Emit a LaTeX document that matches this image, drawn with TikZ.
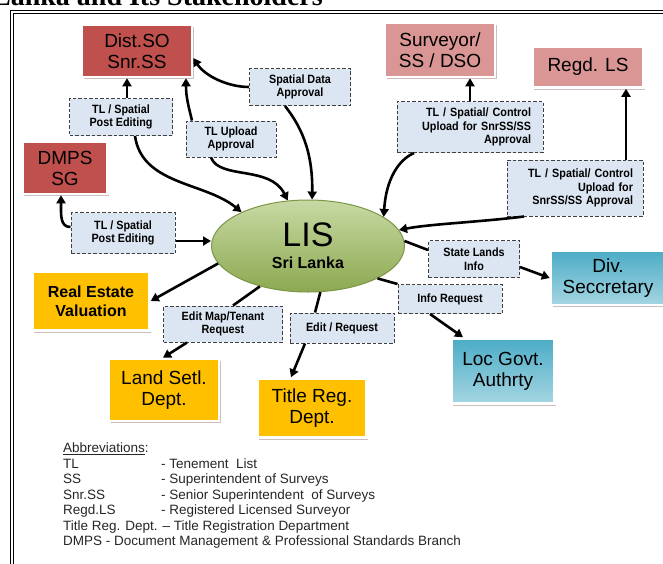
\documentclass[tikz,border=0pt]{standalone}
\usepackage{fontspec}
\setmainfont{Liberation Sans}
\newfontfamily\headfont{Liberation Serif}
\newfontfamily\flowfont[FakeStretch=0.9]{Liberation Sans}
\usetikzlibrary{arrows.meta,shadows,shapes.geometric}

\definecolor{sored}{HTML}{C0504D}
\definecolor{lsred}{HTML}{D99694}
\definecolor{deptorange}{HTML}{FFC000}
\definecolor{govteal}{HTML}{4BACC6}
\definecolor{flowblue}{HTML}{DCE6F2}
\definecolor{lisgreen}{HTML}{9BBB59}
\definecolor{shade}{HTML}{B9A3A3}

\tikzset{
  stake/.style={draw=white, line width=2.5pt, align=center,
    font=\fontsize{19}{21}\selectfont,
    drop shadow={shadow xshift=1.5pt, shadow yshift=-2pt, fill=shade, opacity=.7}},
  survey/.style={stake, fill=sored},
  licensed/.style={stake, fill=lsred},
  dept/.style={stake, fill=deptorange},
  govt/.style={stake, top color=govteal, bottom color=govteal!50},
  flow/.style={draw=black!75, line width=1pt, dash pattern=on 3.5pt off 2pt,
    fill=flowblue, align=center, inner sep=2pt,
    font=\flowfont\bfseries\fontsize{12}{13.5}\selectfont},
  arr/.style={line width=2.6pt, -{Triangle[length=8pt,width=9pt]}},
  link/.style={line width=2.6pt},
}

\begin{document}
\begin{tikzpicture}[x=1pt,y=-1pt]
  \useasboundingbox (0,0) rectangle (663,563);
  \fill[white] (0,0) rectangle (663,563);

  % page frame and cut title
  \draw[line width=1.4pt] (10.5,10.5) rectangle (700,600);
  \draw[line width=0.7pt] (13.5,13.5) rectangle (700,600);
  \node[anchor=base east, inner sep=0, font=\headfont\bfseries\fontsize{28}{28}\selectfont] (title) at (323,5) {Sri Lanka and Its Stakeholders};

  % stakeholders
  \node[survey, minimum width=110pt, minimum height=52pt] (distso) at (137,51) {Dist.SO\\Snr.SS};
  \node[licensed, minimum width=110pt, minimum height=54pt] (surveyor) at (440,50) {Surveyor/\\SS / DSO};
  \node[licensed, minimum width=111pt, minimum height=41pt] (regdls) at (588,67) {Regd. LS};
  \node[survey, minimum width=85pt, minimum height=52pt] (dmps) at (65,168) {DMPS\\SG};
  \node[dept, minimum width=117pt, minimum height=59pt, font=\bfseries\fontsize{16}{19}\selectfont] (realestate) at (91,301) {Real Estate\\Valuation};
  \node[dept, minimum width=110pt, minimum height=62pt] (landsetl) at (164,390) {Land Setl.\\Dept.};
  \node[dept, minimum width=109pt, minimum height=59pt] (titlereg) at (312,408) {Title Reg.\\Dept.};
  \node[govt, minimum width=114pt, minimum height=54pt] (divsec) at (608,278) {Div.\\Seccretary};
  \node[govt, minimum width=103pt, minimum height=65pt] (locgovt) at (503,371) {Loc Govt.\\Authrty};

  \node[ellipse, draw=lisgreen!80!black, line width=1pt, top color=lisgreen!55, bottom color=lisgreen!90!black,
    minimum width=193pt, minimum height=92pt, inner sep=0, align=center,
    font=\fontsize{16}{22}\selectfont] (lis) at (308,246) {{\fontsize{34}{34}\selectfont LIS}\\\textbf{Sri Lanka}};

  % flows
  \node[flow, minimum width=101pt, minimum height=37pt] (spatialdata) at (300,87) {Spatial Data\\Approval};
  \node[flow, minimum width=103pt, minimum height=37pt] (postedit1) at (121,117) {TL / Spatial\\Post Editing};
  \node[flow, minimum width=90pt, minimum height=36pt] (tlupload) at (231,139) {TL Upload\\Approval};
  \node[flow, minimum width=146pt, minimum height=51pt, text width=122pt, align=right] (control1) at (470,127) {TL / Spatial/ Control\\Upload for SnrSS/SS\\Approval};
  \node[flow, minimum width=136pt, minimum height=56pt, text width=116pt, align=right] (control2) at (575,188) {TL / Spatial/ Control\\Upload for\\SnrSS/SS Approval};
  \node[flow, minimum width=104pt, minimum height=41pt] (postedit2) at (123,233) {TL / Spatial\\Post Editing};
  \node[flow, minimum width=91pt, minimum height=37pt] (statelands) at (474,259) {State Lands\\Info};
  \node[flow, minimum width=104pt, minimum height=29pt] (inforeq) at (450,299) {Info Request};
  \node[flow, minimum width=119pt, minimum height=36pt] (editmap) at (223,324) {Edit Map/Tenant\\Request};
  \node[flow, minimum width=104pt, minimum height=30pt] (editreq) at (342,328) {Edit / Request};

  % connectors
  \draw[arr] ([xshift=6pt]postedit1.north) -- ([xshift=6pt]postedit1.north |- distso.south);
  \draw[arr] ([xshift=-39pt]tlupload.north) .. controls (189,108) and (186,98) .. ([xshift=49pt]distso.south);
  \draw[arr] (spatialdata.west) .. controls (228,87) and (205,76) .. ([yshift=-7pt]distso.east);
  \draw[arr] ([xshift=-15pt]spatialdata.south) .. controls (300,125) and (313,150) .. (lis.85);
  \draw[arr] ([xshift=-20pt]tlupload.south) .. controls (220,180) and (270,165) .. (lis.114);
  \draw[arr] ([xshift=14pt]postedit1.south) .. controls (142,185) and (205,182) .. (lis.153);
  \draw[arr] ([yshift=6pt]postedit2.west) .. controls (60,227) and (61,215) .. ([xshift=-4pt]dmps.south);
  \draw[arr] ([yshift=-8pt]postedit2.east) -- ([yshift=5pt]lis.west);
  \draw[arr] (control1.north) -- (control1.north |- surveyor.south);
  \draw[arr] ([xshift=-56pt]control1.south) .. controls (398,160) and (386,180) .. (lis.21);
  \draw[arr] ([xshift=51pt]control2.north) -- ([xshift=51pt]control2.north |- regdls.south);
  \draw[arr] ([xshift=-51pt]control2.south) .. controls (480,222) and (430,224) .. (lis.10);
  \draw[link] (lis.3) -- ([yshift=9pt]statelands.west);
  \draw[arr] ([yshift=-8pt]statelands.east) -- (divsec.west);
  \draw[link] (lis.-25) -- (inforeq.north west);
  \draw[arr] ([xshift=-20pt]inforeq.south) -- ([xshift=-40pt]locgovt.north);
  \draw[link] (lis.-75) -- ([xshift=-27pt]editreq.north);
  \draw[arr] ([xshift=-37pt]editreq.south) -- ([xshift=-21pt]titlereg.north);
  \draw[link] (lis.-140) -- ([xshift=10pt]editmap.north);
  \draw[arr] ([xshift=-36pt]editmap.south) -- ([xshift=-1pt]landsetl.north);
  \draw[arr] (lis.-169) -- (realestate.east);

  % abbreviations
  \node[anchor=north west, align=left, inner sep=0, text=black!85,
    font=\fontsize{13.5}{15.5}\selectfont] (abbrev) at (63,443) {%
    \underline{Abbreviations}:\\
    \makebox[98pt][l]{TL}- Tenement~ List\\
    \makebox[98pt][l]{SS}- Superintendent of Surveys\\
    \makebox[98pt][l]{Snr.SS}- Senior Superintendent~ of Surveys\\
    \makebox[98pt][l]{Regd.LS}- Registered Licensed Surveyor\\
    Title Reg. Dept. – Title Registration Department\\
    DMPS - Document Management \& Professional Standards Branch};
\end{tikzpicture}
\end{document}
